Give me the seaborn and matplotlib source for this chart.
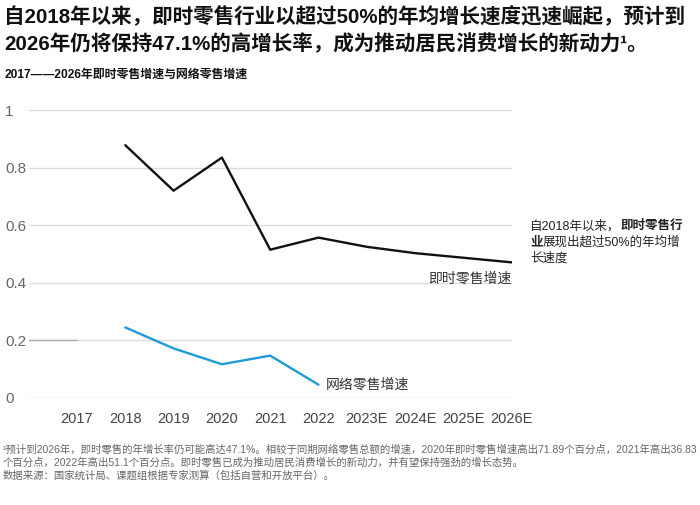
import matplotlib
matplotlib.use("Agg")
import matplotlib.pyplot as plt
import seaborn as sns
import pandas as pd

# Data
years = ["2017", "2018", "2019", "2020", "2021", "2022", "2023E", "2024E", "2025E", "2026E"]
instant_years = ["2018", "2019", "2020", "2021", "2022", "2023E", "2024E", "2025E", "2026E"]
instant_growth = [0.878, 0.72, 0.835, 0.515, 0.557, 0.525, 0.503, 0.487, 0.471]
online_years = ["2018", "2019", "2020", "2021", "2022"]
online_growth = [0.245, 0.172, 0.117, 0.147, 0.046]
y_ticks = [0, 0.2, 0.4, 0.6, 0.8, 1.0]
y_tick_labels = ["0", "0.2", "0.4", "0.6", "0.8", "1"]

name_instant = "即时零售增速"
name_online = "网络零售增速"

df = pd.DataFrame({
    "year": instant_years + online_years,
    "growth": instant_growth + online_growth,
    "series": [name_instant] * len(instant_years) + [name_online] * len(online_years),
})
df["idx"] = df["year"].map({y: i for i, y in enumerate(years)})

sns.set_style("white")
plt.rcParams["font.family"] = ["Liberation Sans", "Noto Sans CJK SC"]

fig = plt.figure(figsize=(7, 5.05), dpi=100)
ax = fig.add_axes([0.041, 0.212, 0.69, 0.57])

sns.lineplot(data=df, x="idx", y="growth", hue="series",
             palette={name_instant: "#111111", name_online: "#1f9bd7"},
             linewidth=1.7, legend=False, ax=ax)

ax.set_xlim(-1, len(years) - 1)
ax.set_ylim(0, 1)
ax.set_xticks(range(len(years)))
ax.set_xticklabels(years, fontsize=10.5, color="#444444")
ax.set_yticks(y_ticks)
ax.set_yticklabels(y_tick_labels, fontsize=11, color="#666666")
for lab in ax.get_yticklabels():
    lab.set_horizontalalignment("left")
ax.tick_params(axis="y", length=0, pad=17)
ax.tick_params(axis="x", length=5, width=0.8, color="#bbbbbb", pad=5, direction="out")
ax.set_xlabel("")
ax.set_ylabel("")
for sp in ax.spines.values():
    sp.set_visible(False)
ax.grid(axis="y", color="#dcdcdc", linewidth=1)
ax.axhline(0.2, xmin=0, xmax=0.1, color="#b0b0b0", linewidth=1)

# line end labels
ax.annotate(name_instant, (len(years) - 1, instant_growth[-1]), xytext=(0, -7),
            textcoords="offset points", ha="right", va="top", fontsize=10, color="#333333")
ax.annotate(name_online, (years.index(online_years[-1]), online_growth[-1]), xytext=(5, 0),
            textcoords="offset points", ha="left", va="center", fontsize=10, color="#333333")

# titles
fig.text(0.006, 0.968, "自2018年以来，即时零售行业以超过50%的年均增长速度迅速崛起，预计到",
         fontsize=14.8, fontweight="bold", color="#111111", va="center")
fig.text(0.006, 0.913, "2026年仍将保持47.1%的高增长率，成为推动居民消费增长的新动力¹。",
         fontsize=14.8, fontweight="bold", color="#111111", va="center")
fig.text(0.006, 0.852, "2017——2026年即时零售增速与网络零售增速",
         fontsize=8.6, fontweight="bold", color="#111111", va="center")

# side note with mixed weights
renderer = fig.canvas.get_renderer()


def rich_line(x, y, parts):
    for s, w in parts:
        t = fig.text(x, y, s, fontsize=9, fontweight=w, color="#222222", va="center")
        x += t.get_window_extent(renderer=renderer).width / fig.bbox.width


rich_line(0.757, 1 - 226 / 505, [("自2018年以来，", "normal"), ("即时零售行", "bold")])
rich_line(0.757, 1 - 242 / 505, [("业", "bold"), ("展现出超过50%的年均增", "normal")])
rich_line(0.757, 1 - 258 / 505, [("长速度", "normal")])

# footnotes
foot = [
    "¹预计到2026年，即时零售的年增长率仍可能高达47.1%。相较于同期网络零售总额的增速，2020年即时零售增速高出71.89个百分点，2021年高出36.83",
    "个百分点，2022年高出51.1个百分点。即时零售已成为推动居民消费增长的新动力，并有望保持强劲的增长态势。",
    "数据来源：国家统计局、课题组根据专家测算（包括自营和开放平台）。",
]
for i, line in enumerate(foot):
    fig.text(0.004, 1 - (449 + 13.5 * i) / 505, line, fontsize=7.5, color="#666666", va="center")

fig.savefig("out.png", dpi=100)
